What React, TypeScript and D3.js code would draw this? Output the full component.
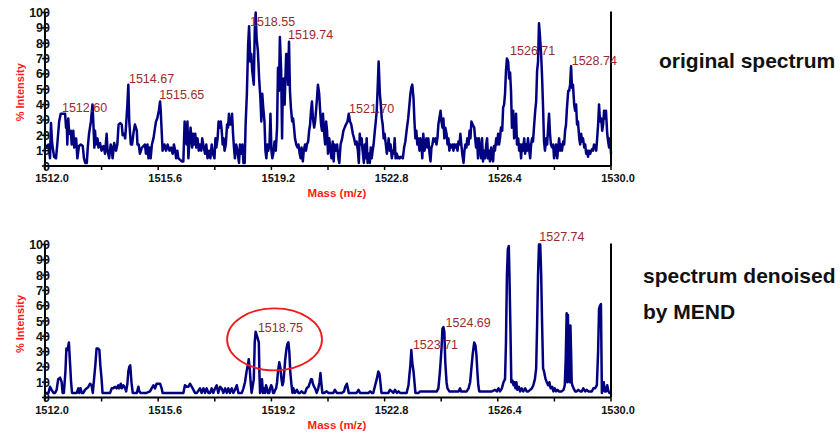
import React from 'react';
import * as d3 from 'd3';

// spectrum points: [mass (m/z), % intensity]
const originalSpectrum: [number, number][] = [
  [1512.00,14],[1512.05,12],[1512.11,14],[1512.16,5],[1512.19,28],[1512.23,14],[1512.29,6],[1512.35,5],[1512.39,14],[1512.45,29],
  [1512.50,34],[1512.58,34],[1512.64,34],[1512.67,25],[1512.69,29],[1512.71,14],[1512.74,31],[1512.77,21],[1512.82,23],[1512.85,14],
  [1512.90,23],[1512.93,12],[1512.99,18],[1513.03,5],[1513.08,13],[1513.14,14],[1513.20,13],[1513.24,5],[1513.28,2],[1513.33,2],
  [1513.36,12],[1513.40,21],[1513.43,25],[1513.46,29],[1513.51,40],[1513.54,27],[1513.57,12],[1513.59,23],[1513.62,14],[1513.67,18],
  [1513.70,12],[1513.75,15],[1513.80,10],[1513.86,13],[1513.91,8],[1513.96,21],[1513.99,10],[1514.04,5],[1514.09,14],[1514.12,12],
  [1514.15,5],[1514.20,15],[1514.26,10],[1514.30,14],[1514.34,27],[1514.39,28],[1514.44,27],[1514.47,20],[1514.51,21],[1514.55,18],
  [1514.58,27],[1514.62,40],[1514.65,53],[1514.68,29],[1514.73,14],[1514.77,14],[1514.81,21],[1514.86,27],[1514.92,23],[1514.94,14],
  [1514.98,14],[1515.02,8],[1515.08,12],[1515.13,13],[1515.18,14],[1515.21,8],[1515.26,14],[1515.29,5],[1515.32,12],[1515.36,5],
  [1515.40,14],[1515.45,18],[1515.50,25],[1515.53,29],[1515.57,31],[1515.62,36],[1515.66,42],[1515.68,36],[1515.71,23],[1515.74,10],
  [1515.80,14],[1515.85,10],[1515.90,14],[1515.96,10],[1516.01,12],[1516.06,8],[1516.10,14],[1516.14,10],[1516.17,5],[1516.21,10],
  [1516.24,5],[1516.30,4],[1516.35,3],[1516.40,3],[1516.44,29],[1516.50,14],[1516.53,29],[1516.56,5],[1516.60,18],[1516.63,25],
  [1516.68,12],[1516.71,21],[1516.74,14],[1516.78,21],[1516.81,12],[1516.85,18],[1516.89,10],[1516.92,14],[1516.97,10],[1517.00,18],
  [1517.05,12],[1517.09,8],[1517.13,14],[1517.17,5],[1517.22,10],[1517.26,5],[1517.30,14],[1517.34,8],[1517.39,5],[1517.42,18],
  [1517.45,12],[1517.49,18],[1517.52,29],[1517.56,25],[1517.59,29],[1517.62,23],[1517.65,14],[1517.68,18],[1517.71,10],[1517.75,14],
  [1517.79,27],[1517.82,25],[1517.85,34],[1517.88,27],[1517.92,27],[1517.95,34],[1517.98,21],[1518.01,12],[1518.04,5],[1518.08,14],
  [1518.12,10],[1518.15,5],[1518.17,2],[1518.20,14],[1518.24,8],[1518.28,14],[1518.31,2],[1518.35,2],[1518.38,27],[1518.42,47],
  [1518.46,79],[1518.49,91],[1518.53,68],[1518.56,73],[1518.59,62],[1518.64,53],[1518.67,88],[1518.70,100],[1518.73,83],[1518.77,75],
  [1518.81,57],[1518.85,44],[1518.88,29],[1518.91,47],[1518.94,38],[1518.98,29],[1519.01,10],[1519.04,5],[1519.07,14],[1519.10,10],
  [1519.14,14],[1519.17,34],[1519.20,10],[1519.23,5],[1519.26,8],[1519.30,16],[1519.34,10],[1519.38,25],[1519.41,64],[1519.44,49],
  [1519.47,84],[1519.51,62],[1519.54,18],[1519.56,49],[1519.59,57],[1519.62,40],[1519.67,73],[1519.70,73],[1519.73,53],[1519.76,81],
  [1519.79,49],[1519.82,38],[1519.86,29],[1519.89,31],[1519.92,25],[1519.95,18],[1519.99,14],[1520.03,12],[1520.06,14],[1520.10,8],
  [1520.13,5],[1520.16,12],[1520.20,3],[1520.23,10],[1520.27,14],[1520.30,10],[1520.33,14],[1520.37,16],[1520.40,23],[1520.43,27],
  [1520.46,36],[1520.49,42],[1520.52,31],[1520.56,25],[1520.59,29],[1520.62,36],[1520.65,44],[1520.68,53],[1520.72,47],[1520.75,36],
  [1520.78,27],[1520.81,23],[1520.84,34],[1520.87,23],[1520.91,14],[1520.94,29],[1520.97,23],[1521.00,8],[1521.04,18],[1521.08,10],
  [1521.11,5],[1521.15,16],[1521.18,3],[1521.21,14],[1521.26,10],[1521.29,14],[1521.33,5],[1521.36,2],[1521.40,14],[1521.45,18],
  [1521.49,23],[1521.53,25],[1521.57,27],[1521.62,29],[1521.66,34],[1521.70,29],[1521.74,27],[1521.79,21],[1521.83,18],[1521.87,14],
  [1521.91,16],[1521.95,10],[1521.98,2],[1522.01,21],[1522.04,14],[1522.07,18],[1522.10,10],[1522.14,2],[1522.17,14],[1522.20,5],
  [1522.23,18],[1522.26,2],[1522.30,8],[1522.33,2],[1522.36,12],[1522.39,5],[1522.42,10],[1522.45,14],[1522.49,23],[1522.52,29],
  [1522.55,36],[1522.58,51],[1522.61,68],[1522.65,47],[1522.68,40],[1522.71,31],[1522.74,27],[1522.77,18],[1522.80,21],[1522.84,14],
  [1522.87,8],[1522.90,12],[1522.93,18],[1522.96,10],[1522.99,14],[1523.03,5],[1523.06,10],[1523.09,8],[1523.12,18],[1523.15,5],
  [1523.19,8],[1523.22,5],[1523.25,6],[1523.28,5],[1523.32,6],[1523.38,5],[1523.42,12],[1523.46,16],[1523.50,23],[1523.55,31],
  [1523.59,40],[1523.62,47],[1523.65,51],[1523.68,53],[1523.72,44],[1523.75,29],[1523.78,18],[1523.81,23],[1523.84,14],[1523.87,18],
  [1523.91,10],[1523.94,18],[1523.97,14],[1524.00,5],[1524.03,21],[1524.07,10],[1524.10,14],[1524.13,18],[1524.16,12],[1524.19,18],
  [1524.23,8],[1524.26,3],[1524.29,12],[1524.32,14],[1524.35,18],[1524.38,16],[1524.42,18],[1524.45,14],[1524.48,18],[1524.51,27],
  [1524.54,31],[1524.58,36],[1524.61,29],[1524.64,25],[1524.67,31],[1524.70,18],[1524.73,25],[1524.77,21],[1524.80,14],[1524.83,18],
  [1524.86,10],[1524.89,14],[1524.93,12],[1524.96,14],[1524.99,10],[1525.02,14],[1525.05,12],[1525.08,14],[1525.12,10],[1525.15,16],
  [1525.18,14],[1525.21,21],[1525.24,14],[1525.27,8],[1525.31,2],[1525.34,10],[1525.37,14],[1525.40,12],[1525.43,18],[1525.47,14],
  [1525.50,23],[1525.53,18],[1525.56,29],[1525.60,27],[1525.65,25],[1525.68,18],[1525.71,12],[1525.74,18],[1525.77,5],[1525.80,18],
  [1525.84,10],[1525.87,5],[1525.90,18],[1525.93,3],[1525.96,10],[1526.00,5],[1526.03,14],[1526.06,18],[1526.09,5],[1526.12,10],
  [1526.15,3],[1526.19,12],[1526.22,5],[1526.25,3],[1526.28,13],[1526.31,10],[1526.35,18],[1526.38,14],[1526.41,21],[1526.44,14],
  [1526.47,18],[1526.50,25],[1526.54,23],[1526.57,38],[1526.60,40],[1526.63,47],[1526.66,62],[1526.69,70],[1526.73,68],[1526.76,57],
  [1526.79,61],[1526.82,49],[1526.85,25],[1526.89,36],[1526.92,18],[1526.95,23],[1526.98,34],[1527.01,14],[1527.05,18],[1527.08,10],
  [1527.11,14],[1527.14,5],[1527.17,14],[1527.20,10],[1527.24,18],[1527.27,8],[1527.30,14],[1527.33,10],[1527.36,18],[1527.39,12],
  [1527.43,5],[1527.46,14],[1527.49,18],[1527.52,16],[1527.55,25],[1527.59,36],[1527.62,42],[1527.65,62],[1527.68,68],[1527.71,93],
  [1527.74,85],[1527.78,72],[1527.81,57],[1527.84,38],[1527.87,16],[1527.90,10],[1527.94,18],[1527.97,14],[1528.00,25],[1528.03,34],
  [1528.06,21],[1528.09,14],[1528.13,12],[1528.16,14],[1528.19,5],[1528.22,10],[1528.25,14],[1528.29,5],[1528.32,12],[1528.35,18],
  [1528.38,10],[1528.41,14],[1528.44,10],[1528.48,16],[1528.51,14],[1528.54,23],[1528.57,27],[1528.60,38],[1528.64,49],[1528.67,49],
  [1528.70,53],[1528.73,65],[1528.76,51],[1528.79,53],[1528.83,40],[1528.86,36],[1528.89,40],[1528.92,27],[1528.95,29],[1528.99,18],
  [1529.02,14],[1529.05,21],[1529.08,16],[1529.11,18],[1529.15,12],[1529.18,14],[1529.21,8],[1529.24,10],[1529.27,6],[1529.30,10],
  [1529.34,8],[1529.37,10],[1529.40,11],[1529.43,10],[1529.46,14],[1529.50,13],[1529.53,10],[1529.56,18],[1529.59,27],[1529.62,40],
  [1529.65,29],[1529.69,31],[1529.72,23],[1529.75,27],[1529.78,36],[1529.81,31],[1529.84,36],[1529.88,21],[1529.91,16],[1529.94,12],
  [1529.97,18],[1530.00,8],
];

const denoisedSpectrum: [number, number][] = [
  [1512.00,3],[1512.11,3],[1512.16,7],[1512.21,5],[1512.27,3],[1512.32,3],[1512.37,5],[1512.42,12],[1512.48,13],[1512.53,10],
  [1512.56,3],[1512.60,3],[1512.65,17],[1512.68,32],[1512.72,31],[1512.76,36],[1512.80,21],[1512.83,10],[1512.86,3],[1512.90,3],
  [1512.95,3],[1513.01,3],[1513.06,6],[1513.09,3],[1513.13,6],[1513.17,3],[1513.22,3],[1513.27,5],[1513.33,6],[1513.38,7],
  [1513.43,9],[1513.48,8],[1513.52,3],[1513.56,12],[1513.60,21],[1513.64,32],[1513.69,32],[1513.73,31],[1513.76,21],[1513.80,12],
  [1513.83,3],[1513.88,3],[1513.96,3],[1514.07,3],[1514.12,6],[1514.17,6],[1514.23,7],[1514.28,6],[1514.33,8],[1514.36,6],
  [1514.41,9],[1514.44,6],[1514.49,8],[1514.55,6],[1514.58,4],[1514.62,9],[1514.65,17],[1514.68,20],[1514.71,21],[1514.75,10],
  [1514.79,3],[1514.86,3],[1514.92,3],[1514.97,7],[1515.00,4],[1515.04,3],[1515.13,3],[1515.23,3],[1515.34,4],[1515.39,6],
  [1515.45,8],[1515.50,6],[1515.55,9],[1515.61,9],[1515.66,9],[1515.71,6],[1515.74,3],[1515.82,3],[1515.92,3],[1516.03,3],
  [1516.14,3],[1516.24,3],[1516.40,3],[1516.45,8],[1516.51,7],[1516.56,7],[1516.61,9],[1516.67,7],[1516.72,5],[1516.77,3],
  [1516.83,3],[1516.93,6],[1516.98,3],[1517.04,6],[1517.09,3],[1517.14,6],[1517.20,3],[1517.25,3],[1517.30,6],[1517.35,3],
  [1517.41,6],[1517.46,8],[1517.51,3],[1517.57,7],[1517.62,6],[1517.67,3],[1517.73,6],[1517.78,3],[1517.83,6],[1517.88,3],
  [1517.94,6],[1517.99,3],[1518.04,5],[1518.10,8],[1518.15,3],[1518.20,3],[1518.26,3],[1518.31,6],[1518.36,10],[1518.41,17],
  [1518.45,21],[1518.48,25],[1518.51,19],[1518.54,10],[1518.57,3],[1518.61,8],[1518.64,12],[1518.67,36],[1518.70,43],[1518.73,41],
  [1518.76,39],[1518.80,36],[1518.82,15],[1518.84,3],[1518.87,8],[1518.90,12],[1518.93,3],[1518.97,6],[1519.00,3],[1519.03,8],
  [1519.06,6],[1519.09,3],[1519.13,3],[1519.16,6],[1519.19,8],[1519.22,7],[1519.25,3],[1519.28,3],[1519.32,5],[1519.35,6],
  [1519.38,10],[1519.41,17],[1519.45,23],[1519.49,19],[1519.52,12],[1519.55,8],[1519.58,10],[1519.61,17],[1519.64,25],[1519.68,32],
  [1519.71,35],[1519.74,36],[1519.77,30],[1519.80,17],[1519.84,8],[1519.87,3],[1519.90,6],[1519.95,3],[1520.01,5],[1520.06,3],
  [1520.11,3],[1520.16,4],[1520.22,3],[1520.27,3],[1520.32,6],[1520.38,7],[1520.43,10],[1520.46,12],[1520.49,12],[1520.52,9],
  [1520.56,7],[1520.59,6],[1520.64,3],[1520.69,6],[1520.73,10],[1520.76,16],[1520.79,9],[1520.82,3],[1520.88,3],[1520.96,4],
  [1521.01,3],[1521.07,3],[1521.12,3],[1521.17,3],[1521.22,5],[1521.28,3],[1521.33,3],[1521.38,3],[1521.44,3],[1521.51,4],
  [1521.55,7],[1521.60,9],[1521.63,6],[1521.66,3],[1521.72,3],[1521.79,3],[1521.86,3],[1521.91,3],[1521.97,5],[1522.02,3],
  [1522.07,3],[1522.13,3],[1522.18,3],[1522.23,3],[1522.29,3],[1522.34,4],[1522.39,3],[1522.44,3],[1522.50,8],[1522.55,12],
  [1522.60,17],[1522.64,15],[1522.67,9],[1522.70,3],[1522.76,3],[1522.82,3],[1522.87,3],[1522.92,3],[1522.97,5],[1523.03,4],
  [1523.08,3],[1523.13,5],[1523.19,3],[1523.24,4],[1523.29,3],[1523.35,3],[1523.40,3],[1523.45,3],[1523.50,3],[1523.56,8],
  [1523.59,15],[1523.62,21],[1523.65,31],[1523.68,23],[1523.72,17],[1523.75,10],[1523.78,3],[1523.82,3],[1523.88,3],[1523.93,4],
  [1524.03,4],[1524.14,4],[1524.25,4],[1524.35,4],[1524.46,4],[1524.51,6],[1524.56,17],[1524.61,32],[1524.64,45],[1524.67,46],
  [1524.70,43],[1524.73,23],[1524.77,10],[1524.80,6],[1524.86,4],[1524.94,4],[1525.04,4],[1525.15,4],[1525.20,6],[1525.23,4],
  [1525.31,4],[1525.41,4],[1525.47,6],[1525.52,10],[1525.56,19],[1525.60,28],[1525.65,36],[1525.69,34],[1525.72,28],[1525.75,17],
  [1525.78,8],[1525.81,4],[1525.89,4],[1526.00,4],[1526.10,4],[1526.21,4],[1526.31,5],[1526.37,4],[1526.42,6],[1526.47,4],
  [1526.53,6],[1526.58,10],[1526.63,12],[1526.66,36],[1526.69,80],[1526.72,97],[1526.75,99],[1526.77,80],[1526.80,47],[1526.83,10],
  [1526.87,11],[1526.90,8],[1526.93,10],[1526.96,6],[1526.99,10],[1527.02,5],[1527.07,7],[1527.11,4],[1527.16,6],[1527.21,4],
  [1527.27,6],[1527.32,4],[1527.37,4],[1527.43,5],[1527.48,6],[1527.53,8],[1527.58,12],[1527.62,19],[1527.65,47],[1527.68,80],
  [1527.71,100],[1527.75,100],[1527.78,80],[1527.81,47],[1527.84,19],[1527.87,17],[1527.92,12],[1527.96,10],[1528.00,8],[1528.04,10],
  [1528.08,6],[1528.13,7],[1528.17,4],[1528.21,6],[1528.25,4],[1528.30,5],[1528.34,4],[1528.38,4],[1528.43,4],[1528.49,5],
  [1528.53,8],[1528.56,25],[1528.59,55],[1528.61,10],[1528.63,54],[1528.65,25],[1528.67,47],[1528.69,10],[1528.71,47],[1528.73,30],
  [1528.75,10],[1528.77,8],[1528.81,6],[1528.86,4],[1528.91,4],[1528.96,5],[1529.02,4],[1529.07,4],[1529.12,6],[1529.18,4],
  [1529.23,5],[1529.28,4],[1529.34,4],[1529.39,4],[1529.44,6],[1529.49,6],[1529.55,8],[1529.59,30],[1529.62,58],[1529.65,60],
  [1529.68,61],[1529.71,3],[1529.74,6],[1529.77,10],[1529.80,4],[1529.84,4],[1529.88,8],[1529.92,4],[1529.95,3],[1529.99,3],
];

const massTicks = [1512.0, 1513.8, 1515.6, 1517.4, 1519.2, 1521.0, 1522.8, 1524.6, 1526.4, 1528.2, 1530.0];
const massTickLabels = ['1512.0', '1515.6', '1519.2', '1522.8', '1526.4', '1530.0'];
const intensityTicks = [0, 10, 20, 30, 40, 50, 60, 70, 80, 90, 100];

// peak annotations: label text, mass and intensity where the label sits
const originalPeaks = [
  { label: '1512.60', mass: 1512.54, level: 35 },
  { label: '1514.67', mass: 1514.67, level: 54 },
  { label: '1515.65', mass: 1515.63, level: 43.5 },
  { label: '1518.55', mass: 1518.52, level: 91.5 },
  { label: '1519.74', mass: 1519.73, level: 83 },
  { label: '1521.70', mass: 1521.67, level: 34.5 },
  { label: '1526.71', mass: 1526.79, level: 72 },
  { label: '1528.74', mass: 1528.75, level: 65.5 },
];
const denoisedPeaks = [
  { label: '1518.75', mass: 1518.77, level: 43 },
  { label: '1523.71', mass: 1523.70, level: 32 },
  { label: '1524.69', mass: 1524.74, level: 46 },
  { label: '1527.74', mass: 1527.72, level: 102 },
];
const circled = { mass: 1519.3, level: 38, massRadius: 1.51, levelRadius: 20.3 };

const FONT = '"Liberation Sans", Arial, Helvetica, sans-serif';
const LEFT = 45;
const RIGHT = 611;

type Peak = { label: string; mass: number; level: number };

function SpectrumPanel({ data, peaks, top, bottom, labelGap, ring }: {
  data: [number, number][]; peaks: Peak[]; top: number; bottom: number; labelGap: number;
  ring?: typeof circled;
}) {
  const x = d3.scaleLinear().domain([1512, 1530]).range([LEFT, RIGHT]);
  const y = d3.scaleLinear().domain([0, 100]).range([bottom, top]);
  const line = d3.line<[number, number]>().x(d => x(d[0])).y(d => y(d[1]));

  return (
    <g>
      <path d={line(data) || ''} fill="none" stroke="#000080" strokeWidth={2.5} strokeLinejoin="round" />

      {/* y axis */}
      <line x1={LEFT} x2={LEFT} y1={top} y2={bottom} stroke="#000" strokeWidth={2} />
      {intensityTicks.map(t => (
        <g key={t}>
          <line x1={LEFT - 3} x2={LEFT + 3} y1={y(t)} y2={y(t)} stroke="#000" strokeWidth={1.5} />
          <text x={LEFT + 5} y={y(t)} dy="0.36em" textAnchor="end" fontFamily={FONT}
            fontWeight="bold" fontSize={12.5} fill="#111">{t}</text>
        </g>
      ))}
      {/* right frame line */}
      <line x1={RIGHT} x2={RIGHT} y1={top - 1} y2={bottom} stroke="#000" strokeWidth={2} />

      {/* x axis */}
      <line x1={LEFT} x2={RIGHT} y1={bottom} y2={bottom} stroke="#000" strokeWidth={2} />
      {massTicks.map(t => (
        <line key={t} x1={x(t)} x2={x(t)} y1={bottom} y2={bottom + 4} stroke="#000" strokeWidth={1.5} />
      ))}
      {massTickLabels.map(t => (
        <text key={t} x={x(+t) + 7} y={bottom + labelGap} textAnchor="middle" fontFamily={FONT}
          fontWeight="bold" fontSize={11} fill="#111">{t}</text>
      ))}

      <text transform={`translate(24,${(top + bottom) / 2 + 3}) rotate(-90)`} textAnchor="middle"
        fontFamily={FONT} fontWeight="bold" fontSize={11} fill="#ff1a1a">% Intensity</text>
      <text x={337} y={bottom + labelGap + 15} textAnchor="middle" fontFamily={FONT}
        fontWeight="bold" fontSize={11.5} fill="#ff1a1a">Mass (m/z)</text>

      {peaks.map(p => (
        <text key={p.label} x={x(p.mass)} y={y(p.level)} fontFamily={FONT} fontSize={12.5}
          fill="#9b2b2b">{p.label}</text>
      ))}

      {ring && (
        <ellipse cx={x(ring.mass)} cy={y(ring.level)}
          rx={x(ring.mass + ring.massRadius) - x(ring.mass)}
          ry={y(0) - y(ring.levelRadius)}
          fill="none" stroke="#ee1c1c" strokeWidth={1.8} />
      )}
    </g>
  );
}

export default function App() {
  return (
    <svg width={840} height={437} style={{ position: 'absolute', left: 0, top: 0, background: '#fff' }}>
      <rect width={840} height={437} fill="#fff" />
      <SpectrumPanel data={originalSpectrum} peaks={originalPeaks} top={12.5} bottom={166} labelGap={16} />
      <SpectrumPanel data={denoisedSpectrum} peaks={denoisedPeaks} top={244.5} bottom={397.5} labelGap={16}
        ring={circled} />

      <text x={659} y={68} fontFamily={FONT} fontWeight="bold" fontSize={21} fill="#111">original spectrum</text>
      <text x={643} y={283} fontFamily={FONT} fontWeight="bold" fontSize={21} fill="#111">spectrum denoised</text>
      <text x={643} y={319} fontFamily={FONT} fontWeight="bold" fontSize={21} fill="#111">by MEND</text>
    </svg>
  );
}
